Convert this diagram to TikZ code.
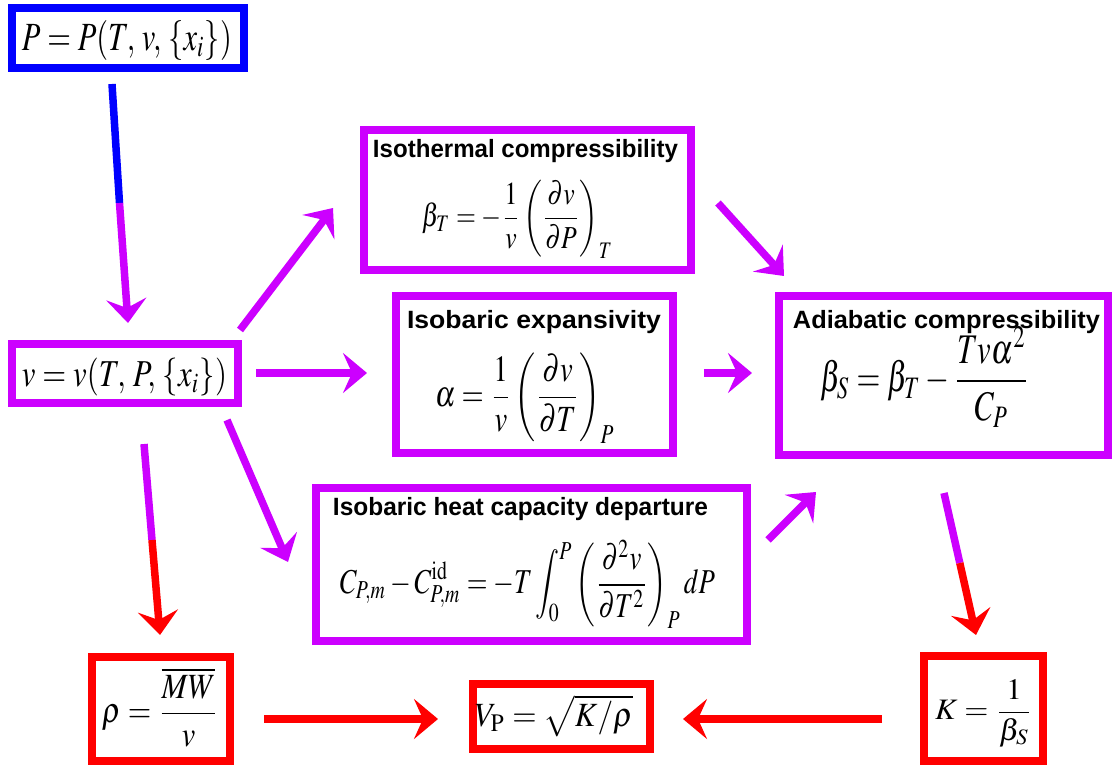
\documentclass[tikz,border=0pt]{standalone}
\usepackage{mathptmx}
\usepackage[no-math]{fontspec}
\setsansfont{Liberation Sans}
\usepackage{graphicx}
\usetikzlibrary{arrows.meta,calc}
\definecolor{pur}{RGB}{204,0,255}
\definecolor{blu}{RGB}{0,0,255}
\definecolor{rd}{RGB}{255,0,0}
\tikzset{
  frame/.style={draw=#1, line width=8pt, inner sep=0pt, outer sep=0pt},
  redframe/.style={draw=rd, line width=7.5pt, inner sep=0pt, outer sep=0pt},
  eq/.style={inner sep=0pt, outer sep=0pt, anchor=center},
  lab/.style={inner sep=0pt, outer sep=0pt, anchor=base, font=\fontsize{25}{29}\selectfont\sffamily\bfseries},
  arr/.style={draw=#1, line width=7.5pt, line cap=butt, -{Stealth[length=24pt,width=40pt,inset=9pt]}},
  seg/.style={draw=#1, line width=7.5pt, line cap=butt},
}
\begin{document}
\begin{tikzpicture}[x=1pt,y=-1pt]
\useasboundingbox (0,0) rectangle (1112,765);
% frames
\node[frame=blu, minimum width=232pt, minimum height=60pt] (Pbox) at (128,38) {};
\node[frame=pur, minimum width=226pt, minimum height=59pt] (vbox) at (125,373.5) {};
\node[frame=pur, minimum width=327pt, minimum height=140pt] (isobox) at (527.5,200) {};
\node[frame=pur, minimum width=277pt, minimum height=157pt] (expbox) at (534.5,374.5) {};
\node[frame=pur, minimum width=329pt, minimum height=159pt] (adbox) at (943.5,375.5) {};
\node[frame=pur, minimum width=431pt, minimum height=153pt] (cpbox) at (531.5,564.5) {};
\node[redframe, minimum width=138pt, minimum height=104pt] (rhobox) at (161,709) {};
\node[redframe, minimum width=177pt, minimum height=65pt] (vpbox) at (561.5,716.5) {};
\node[redframe, minimum width=119pt, minimum height=105pt] (kbox) at (983.5,708.5) {};
% labels
\node[lab] (isolab) at (525.5,158) {\resizebox{305pt}{\height}{Isothermal compressibility}};
\node[lab] (explab) at (534,328) {\resizebox{254pt}{\height}{Isobaric expansivity}};
\node[lab] (adlab) at (946.5,328) {\resizebox{307pt}{\height}{Adiabatic compressibility}};
\node[lab] (cplab) at (520.5,515) {\resizebox{375pt}{\height}{Isobaric heat capacity departure}};
% equations
\node[eq] (Peq) at (127,41) {\resizebox*{210pt}{40pt}{$P=P(T,\,v,\,\{x_i\})$}};
\node[eq] (veq) at (124.5,377) {\resizebox*{205pt}{38pt}{$v=v(T,\,P,\,\{x_i\})$}};
\node[eq] (isoeq) at (517.5,219) {\resizebox*{191pt}{78pt}{$\displaystyle \beta_T=-\frac{1}{v}\left(\frac{\partial v}{\partial P}\right)_{T}$}};
\node[eq] (expeq) at (525,398) {\resizebox*{180pt}{90pt}{$\displaystyle \alpha=\frac{1}{v}\left(\frac{\partial v}{\partial T}\right)_{P}$}};
\node[eq] (adeq) at (925,377) {\resizebox*{210pt}{100pt}{$\displaystyle \beta_S=\beta_T-\frac{Tv\alpha^2}{C_P}$}};
\node[eq] (cpeq) at (527.5,584) {\resizebox*{375pt}{88pt}{$\displaystyle C_{P,m}-C_{P,m}^{\mathrm{id}}=-T\int_0^P\left(\frac{\partial^2 v}{\partial T^2}\right)_{P} dP$}};
\node[eq] (rhoeq) at (160.5,707.5) {\resizebox*{117pt}{79pt}{$\displaystyle \rho=\frac{\overline{MW}}{v}$}};
\node[eq] (vpeq) at (554,716) {\resizebox*{158pt}{42pt}{$V_{\mathrm{P}}=\sqrt{K/\rho}$}};
\node[eq] (keq) at (984,713.5) {\resizebox*{98pt}{67pt}{$\displaystyle K=\frac{1}{\beta_S}$}};
% arrow end points
\coordinate (a1s) at (112,84);  \coordinate (a1e) at (128,323); \coordinate (a1m) at (119.5,203);
\coordinate (a2s) at (240,330); \coordinate (a2e) at (333,208);
\coordinate (a3s) at (256,373); \coordinate (a3e) at (367,373);
\coordinate (a4s) at (227,420); \coordinate (a4e) at (288,562);
\coordinate (a5s) at (144,444); \coordinate (a5e) at (160,635); \coordinate (a5m) at (152,540);
\coordinate (a6s) at (718,203); \coordinate (a6e) at (784,276);
\coordinate (a7s) at (704,373); \coordinate (a7e) at (752,373);
\coordinate (a8s) at (768,540); \coordinate (a8e) at (816,492);
\coordinate (a9s) at (944,493); \coordinate (a9e) at (976,635); \coordinate (a9m) at (959.8,563);
\coordinate (a10s) at (264,719); \coordinate (a10e) at (438,719);
\coordinate (a11s) at (882,719); \coordinate (a11e) at (683,719);
% arrows
\draw[seg=blu] (a1s) -- (a1m);
\draw[arr=pur] (a1m) -- (a1e);
\draw[arr=pur] (a2s) -- (a2e);
\draw[arr=pur] (a3s) -- (a3e);
\draw[arr=pur] (a4s) -- (a4e);
\draw[seg=pur] (a5s) -- (a5m);
\draw[arr=rd] (a5m) -- (a5e);
\draw[arr=pur] (a6s) -- (a6e);
\draw[arr=pur] (a7s) -- (a7e);
\draw[arr=pur] (a8s) -- (a8e);
\draw[seg=pur] (a9s) -- (a9m);
\draw[arr=rd] (a9m) -- (a9e);
\draw[arr=rd] (a10s) -- (a10e);
\draw[arr=rd] (a11s) -- (a11e);
\end{tikzpicture}
\end{document}
